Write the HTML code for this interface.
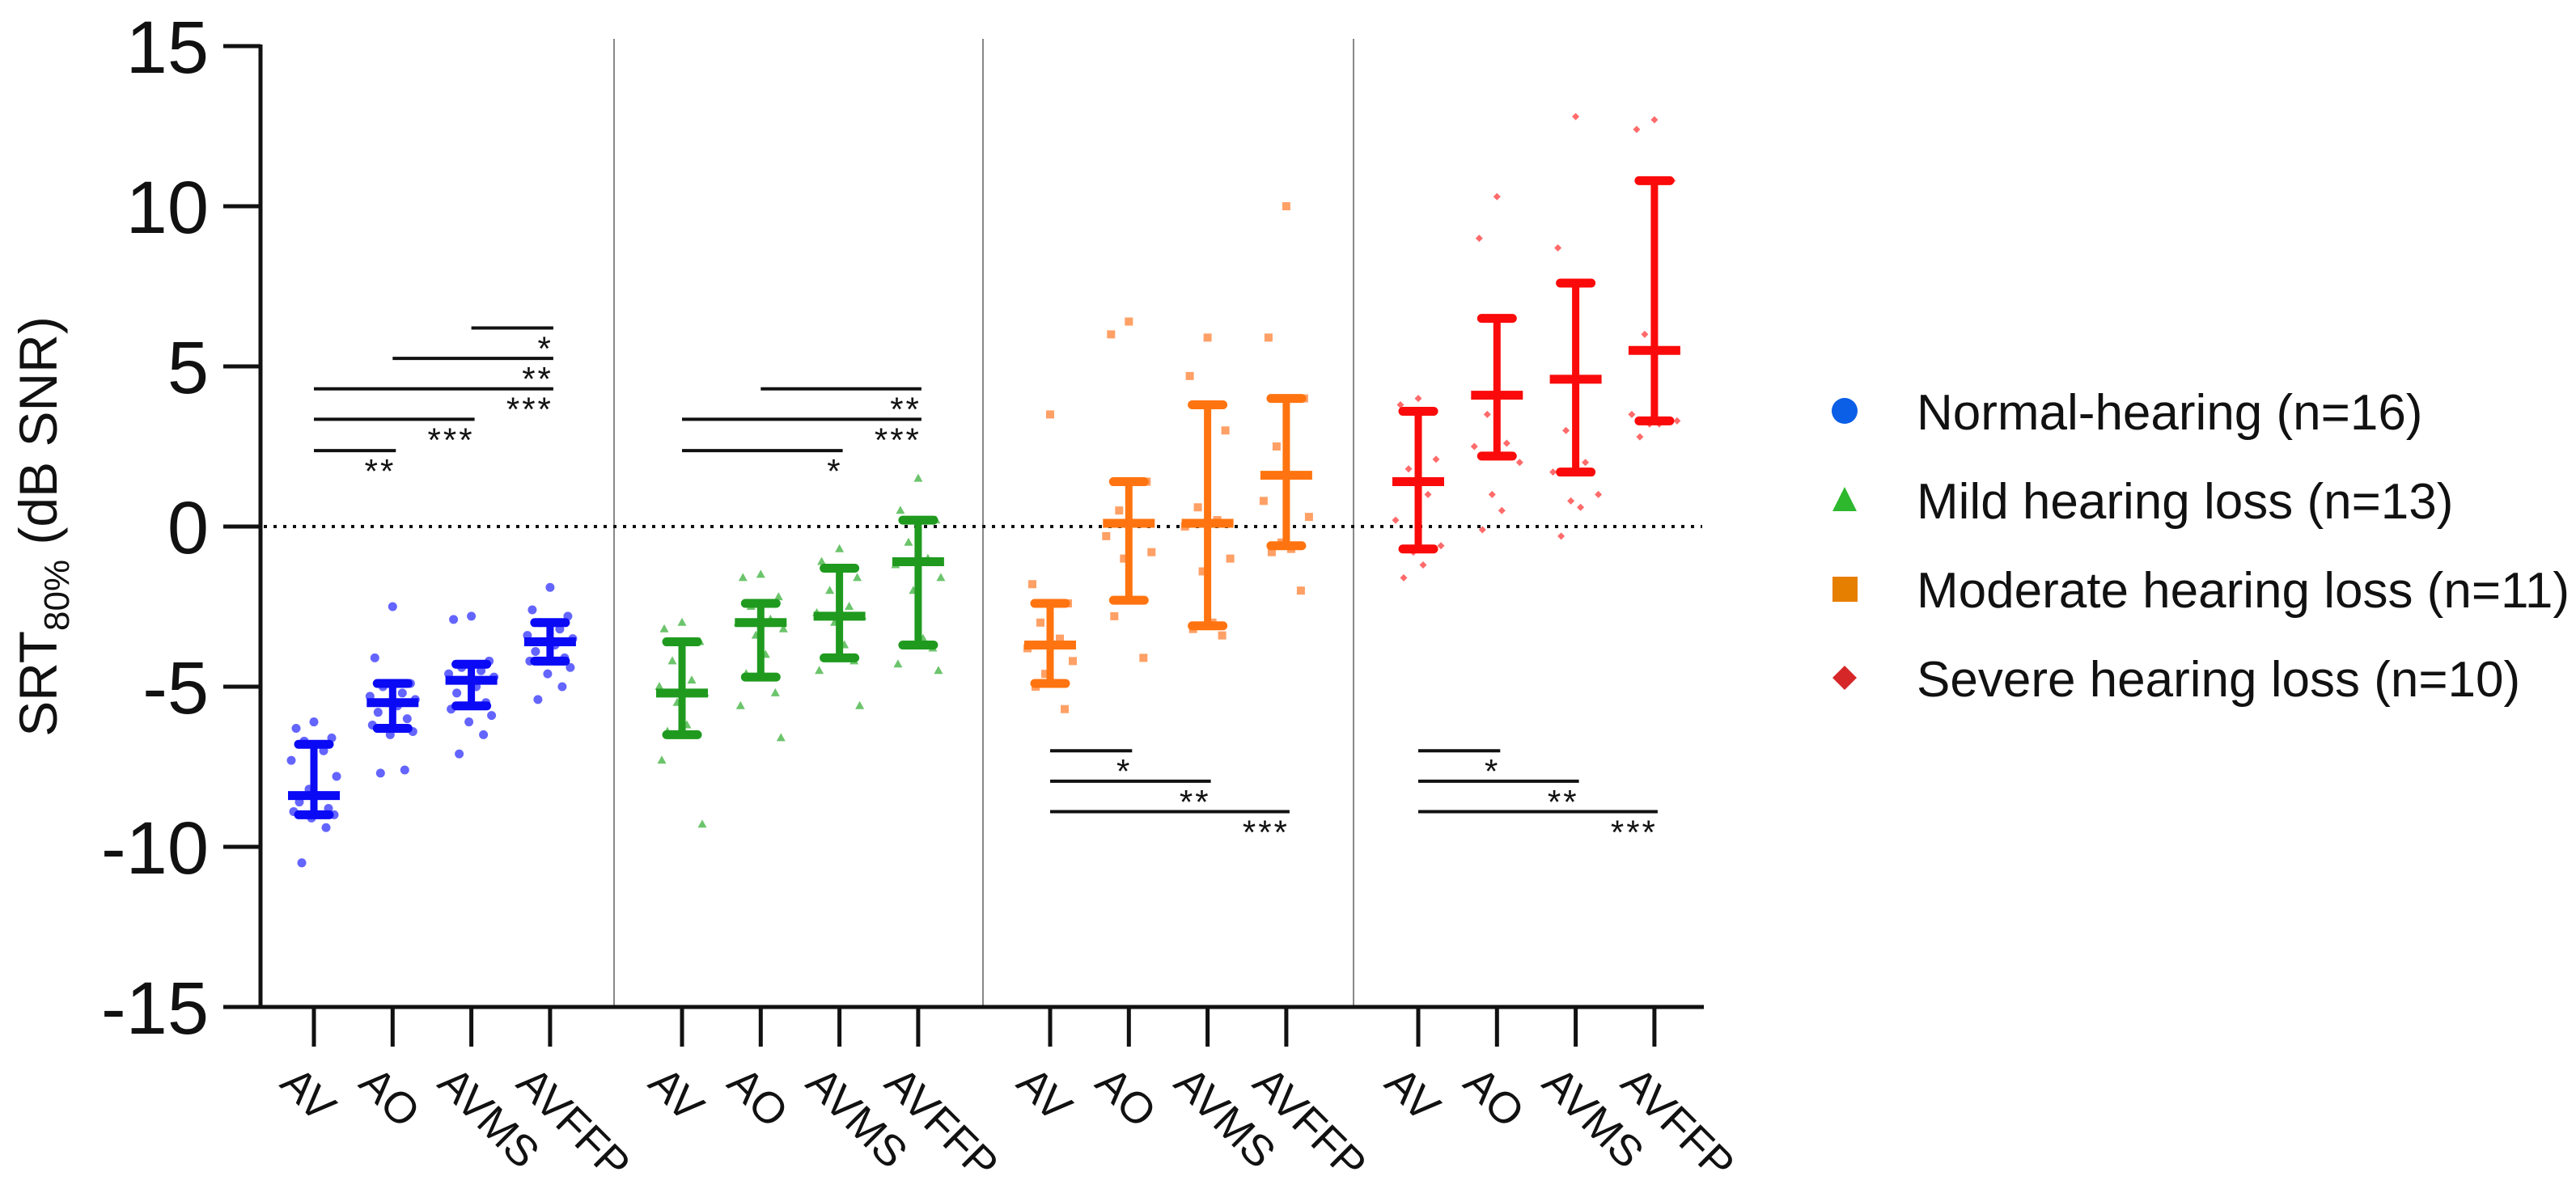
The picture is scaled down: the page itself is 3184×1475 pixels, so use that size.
<!DOCTYPE html>
<html><head><meta charset="utf-8"><style>
html,body{margin:0;padding:0;background:#fff;overflow:hidden;}
svg{display:block;font-family:"Liberation Sans",Arial,sans-serif;}
</style></head><body>
<svg id="chart" width="3184" height="1475" viewBox="0 0 3184 1475" xmlns="http://www.w3.org/2000/svg"></svg>
<script>
const groups = ["Normal-hearing (n=16)","Mild hearing loss (n=13)","Moderate hearing loss (n=11)","Severe hearing loss (n=10)"];
const conditions = ["AV","AO","AVMS","AVFFP"];
const yTicks = [15,10,5,0,-5,-10,-15];
const tickLabels = ["15","10","5","0","-5","-10","-15"];
const medians = [[-8.4,-5.5,-4.8,-3.6],[-5.2,-3.0,-2.8,-1.1],[-3.7,0.1,0.1,1.6],[1.4,4.1,4.6,5.5]];
const lowers = [[-9.0,-6.3,-5.6,-4.2],[-6.5,-4.7,-4.1,-3.7],[-4.9,-2.3,-3.1,-0.6],[-0.7,2.2,1.7,3.3]];
const uppers = [[-6.8,-4.9,-4.3,-3.0],[-3.6,-2.4,-1.3,0.2],[-2.4,1.4,3.8,4.0],[3.6,6.5,7.6,10.8]];
const pointsNH = [
 [-6.1,-6.3,-6.6,-6.7,-7.0,-7.3,-7.8,-8.2,-8.4,-8.6,-8.8,-8.9,-9.0,-9.1,-9.4,-10.5],
 [-2.5,-4.1,-4.9,-5.0,-5.2,-5.3,-5.4,-5.5,-5.6,-5.8,-6.0,-6.2,-6.4,-6.5,-7.6,-7.7],
 [-2.8,-2.9,-4.2,-4.4,-4.5,-4.6,-4.7,-4.8,-5.0,-5.2,-5.5,-5.7,-5.9,-6.1,-6.5,-7.1],
 [-1.9,-2.6,-2.8,-3.0,-3.2,-3.4,-3.5,-3.6,-3.7,-3.9,-4.1,-4.2,-4.4,-4.6,-5.0,-5.4]];
const pointsMild = [
 [-3.0,-3.2,-3.6,-4.2,-4.8,-5.0,-5.2,-5.5,-6.2,-6.4,-6.5,-7.3,-9.3],
 [-1.5,-1.6,-2.2,-2.5,-2.9,-3.0,-3.2,-3.4,-4.0,-4.6,-5.2,-5.6,-6.6],
 [-0.7,-1.1,-1.6,-2.0,-2.5,-2.7,-2.8,-3.0,-3.7,-4.1,-4.2,-4.5,-5.6],
 [1.5,0.5,0.2,-0.5,-1.0,-1.2,-1.6,-2.0,-3.5,-3.7,-3.8,-4.3,-4.5]];
const pointsMod = [
 [3.5,-1.8,-2.4,-3.0,-3.5,-3.8,-4.2,-4.6,-4.9,-5.0,-5.7],
 [6.4,6.0,1.4,0.5,0.1,-0.3,-0.8,-1.0,-2.3,-2.8,-4.1],
 [5.9,4.7,3.0,0.6,0.2,0.0,-1.0,-1.4,-3.0,-3.2,-3.4],
 [10.0,5.9,4.0,2.5,1.6,0.8,0.3,-0.5,-0.7,-0.8,-2.0]];
const pointsSev = [
 [4.0,3.8,2.1,1.8,1.0,0.2,-0.6,-0.8,-1.2,-1.6],
 [10.3,9.0,4.1,3.5,2.6,2.5,2.0,1.0,0.5,-0.1],
 [12.8,8.7,4.6,3.0,2.0,1.7,1.0,0.8,0.6,-0.3],
 [12.7,12.4,10.8,6.0,5.5,3.5,3.3,3.2,3.2,2.8]];
const allPoints = [pointsNH, pointsMild, pointsMod, pointsSev];
const sigGroup = [0,0,0,0,0,1,1,1,2,2,2,3,3,3];
const sigFrom = [2,1,0,0,0,1,0,0,0,0,0,0,0,0];
const sigTo = [3,3,3,2,1,3,3,2,1,2,3,1,2,3];
const sigY = [6.2,5.25,4.3,3.35,2.37,4.3,3.35,2.37,-7.0,-7.95,-8.9,-7.0,-7.95,-8.9];
const sigLabel = ["*","**","***","***","**","**","***","*","*","**","***","*","**","***"];

const svg = document.getElementById('chart');
const NS = "http://www.w3.org/2000/svg";
const y0 = 651, yPer = 39.6;
function yScale(v){ return y0 - v*yPer; }
function xScale(g,i){ return 388 + g*455 + i*97.3; }
function mk(tag, attrs, parent){ const e=document.createElementNS(NS,tag); for(const k in attrs) e.setAttribute(k,attrs[k]); (parent||svg).appendChild(e); return e; }

const lineColors = ["#0a0af5","#1f9a1f","#ff7410","#fa0a0a"];
const ptColors = ["#6464ff","#6cc46c","#ffa066","#ff6a6a"];
const axisBottom = yScale(-15);

[759,1215,1673].forEach(x=>{
 const l=mk('line',{x1:x,y1:48,x2:x,y2:axisBottom,stroke:'#888','stroke-width':2});
 
 
});
const zl=mk('line',{x1:326,y1:yScale(0),x2:2104,y2:yScale(0),stroke:'#111','stroke-width':4,'stroke-dasharray':'4 8'});



const ya=mk('line',{x1:322,y1:yScale(15)-2,x2:322,y2:axisBottom+2,stroke:'#111','stroke-width':5});


const xa=mk('line',{x1:320,y1:axisBottom,x2:2106,y2:axisBottom,stroke:'#111','stroke-width':5});



yTicks.forEach((v,k)=>{
 const y=yScale(v);
 const t=mk('line',{x1:276,y1:y,x2:322,y2:y,stroke:'#111','stroke-width':5});
 
 
 const tx=mk('text',{x:258,y:y+33,'text-anchor':'end','font-size':92,fill:'#111'});
 tx.textContent=tickLabels[k];
 
 
});

const yt=mk('text',{transform:'translate(70,651) rotate(-90)','text-anchor':'middle','font-size':66,fill:'#111'});


yt.innerHTML='SRT<tspan font-size="44" dy="15">80%</tspan><tspan dy="-15"> (dB SNR)</tspan>';

for(let g=0;g<4;g++){
 for(let i=0;i<4;i++){
  const x=xScale(g,i);
  const t=mk('line',{x1:x,y1:axisBottom,x2:x,y2:axisBottom+49,stroke:'#111','stroke-width':5});
  
  
  const tx=mk('text',{transform:`translate(${x-44},${axisBottom+97}) rotate(45)`,'font-size':54,fill:'#111'});
  tx.textContent=conditions[i];
  
  
 }
}

const jit=[0,-22,22,-12,12,-28,28,-6,6,-18,18,-25,25,-3,15,-15];
function marker(g,x,y,parent){
 if(g===0) return mk('circle',{cx:x,cy:y,r:5.5,fill:ptColors[0]},parent);
 if(g===1) return mk('polygon',{points:`${x},${y-6} ${x-5.5},${y+4} ${x+5.5},${y+4}`,fill:ptColors[1]},parent);
 if(g===2) return mk('rect',{x:x-5,y:y-5,width:10,height:10,fill:ptColors[2]},parent);
 return mk('polygon',{points:`${x},${y-4.5} ${x+4.5},${y} ${x},${y+4.5} ${x-4.5},${y}`,fill:ptColors[3]},parent);
}
for(let g=0;g<4;g++){
 for(let i=0;i<4;i++){
  const cx=xScale(g,i);
  const grp=mk('g',{});
  
  
  allPoints[g][i].forEach((v,k)=>{
   const m=marker(g,cx+jit[k%jit.length],yScale(v),grp);
   
   
  });
  const c=lineColors[g];
  const yl=yScale(lowers[g][i]), yu=yScale(uppers[g][i]), ym=yScale(medians[g][i]);
  const st=mk('line',{x1:cx,y1:yu,x2:cx,y2:yl,stroke:c,'stroke-width':9},grp);
  
  
  [yu,yl].forEach(yy=>{
   const cap=mk('line',{x1:cx-19,y1:yy,x2:cx+19,y2:yy,stroke:c,'stroke-width':11,'stroke-linecap':'round'},grp);
   
   
  });
  const md=mk('line',{x1:cx-32,y1:ym,x2:cx+32,y2:ym,stroke:c,'stroke-width':11},grp);
  
  
 }
}

for(let k=0;k<sigGroup.length;k++){
 const g=sigGroup[k];
 const x1=xScale(g,sigFrom[k]), x2=xScale(g,sigTo[k])+4, y=yScale(sigY[k]);
 const l=mk('line',{x1:x1,y1:y,x2:x2,y2:y,stroke:'#111','stroke-width':4});
 
 
 const t=mk('text',{x:x2,y:y+40,'text-anchor':'end','font-size':42,fill:'#111','letter-spacing':'3'});
 t.textContent=sigLabel[k];
 
 
}

const legY=[508,618,728,838];
const legColors=["#0b5ee6","#2eb82e","#e67e00","#d62728"];
for(let g=0;g<4;g++){
 const lg=mk('g',{});
 
 
 const x=2280,y=legY[g];
 let m;
 if(g===0) m=mk('circle',{cx:x,cy:y,r:16,fill:legColors[0]},lg);
 else if(g===1) m=mk('polygon',{points:`${x},${y-16} ${x-15},${y+14} ${x+15},${y+14}`,fill:legColors[1]},lg);
 else if(g===2) m=mk('rect',{x:x-15,y:y-15,width:31,height:31,fill:legColors[2]},lg);
 else m=mk('polygon',{points:`${x},${y-15} ${x+15},${y} ${x},${y+15} ${x-15},${y}`,fill:legColors[3]},lg);
 
 
 const t=mk('text',{x:2369,y:y+23,'font-size':62,fill:'#111'},lg);
 t.textContent=groups[g];
 
 
}
</script>
</body></html>
